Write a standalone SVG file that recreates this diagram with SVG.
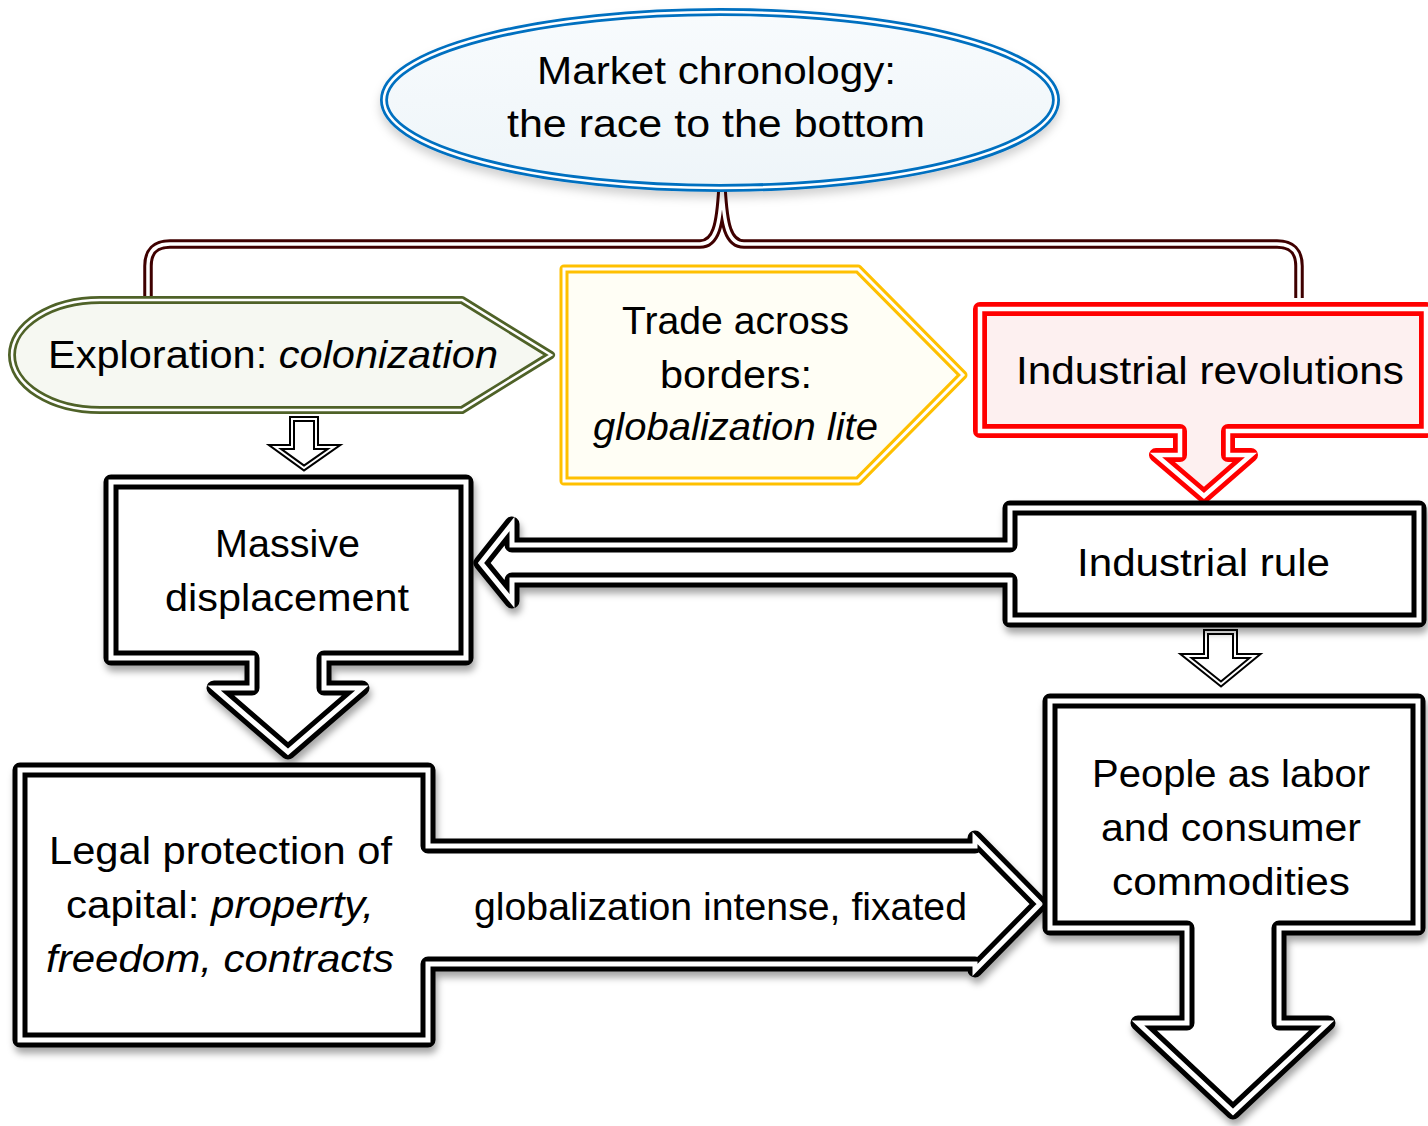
<svg xmlns="http://www.w3.org/2000/svg" xmlns:xlink="http://www.w3.org/1999/xlink" width="1428" height="1126" viewBox="0 0 1428 1126">
<defs>
<style>
.t{font-family:"Liberation Sans",Arial,sans-serif;font-size:38px;fill:#000;text-anchor:middle}
.i{font-style:italic}
.bk{fill:#fff;stroke:#000;stroke-width:15;stroke-linejoin:round}
.bkgap{fill:none;stroke:#fff;stroke-width:5;stroke-linejoin:miter}
.sm{fill:#fff;stroke:#000;stroke-width:6;stroke-linejoin:miter}
.smgap{fill:none;stroke:#fff;stroke-width:2;stroke-linejoin:miter}
.br{fill:none;stroke:#3f0000;stroke-width:9.5;stroke-linejoin:round}
.brgap{fill:none;stroke:#fff;stroke-width:3.5;stroke-linejoin:round}
</style>
<filter id="sh" x="-10%" y="-10%" width="120%" height="130%">
<feDropShadow dx="2" dy="6" stdDeviation="3.5" flood-color="#000" flood-opacity="0.35"/>
</filter>
<filter id="shs" x="-10%" y="-10%" width="120%" height="130%">
<feDropShadow dx="0" dy="6" stdDeviation="5" flood-color="#000" flood-opacity="0.18"/>
</filter>
<linearGradient id="gEll" x1="0" y1="0" x2="0" y2="1">
<stop offset="0" stop-color="#F8FBFD"/>
<stop offset="1" stop-color="#EEF5F9"/>
</linearGradient>
<path id="p-bracket" d="M148,300 L148,266 Q148,244 170,244 L700,244 C716,244 720,225 722,188 C724,225 728,244 744,244 L1277,244 Q1299,244 1299,266 L1299,298"/>
<path id="p-a1" d="M292,419 L316,419 L316,447 L334,447 L304,468 L275,447 L292,447 Z"/>
<path id="p-a2" d="M1206,632 L1235,632 L1235,656 L1255,656 L1221,684 L1186,656 L1206,656 Z"/>
<path id="p-explo" d="M100,300 L462,300 L551,355 L462,410 L100,410 A88,55 0 0 1 12,355 A88,55 0 0 1 100,300 Z"/>
<path id="p-trade" d="M564,269 L858,269 L963,375 L858,481 L564,481 Z"/>
<path id="p-indrev" d="M980,309 L1426,309 L1426,431 L1228,431 L1228,455 L1251,455 L1204,496 L1156,455 L1180,455 L1180,431 L980,431 Z"/>
<path id="p-massive" d="M111,482 L466,482 L466,658 L324,658 L324,688 L362,688 L288,752 L214,688 L252,688 L252,658 L111,658 Z"/>
<path id="p-indrule" d="M1010,508 L1419,508 L1419,620 L1010,620 L1010,580 L512,580 L512,601 L481,563 L512,524 L512,545 L1010,545 Z"/>
<path id="p-legal" d="M20,770 L428,770 L428,846 L975,846 L975,838 L1040,904 L975,970 L975,964 L428,964 L428,1040 L20,1040 Z"/>
<path id="p-people" d="M1050,701 L1418,701 L1418,928 L1279,928 L1279,1023 L1328,1023 L1233,1112 L1138,1023 L1187,1023 L1187,928 L1050,928 Z"/>
</defs>
<rect x="0" y="0" width="1428" height="1126" fill="#fff"/>

<g id="connectors">
<use href="#p-bracket" class="br"/>
<use href="#p-bracket" class="brgap"/>
<g id="arrow-explo-massive">
<use href="#p-a1" class="sm"/>
<use href="#p-a1" class="smgap"/>
</g>
<g id="arrow-rule-people">
<use href="#p-a2" class="sm"/>
<use href="#p-a2" class="smgap"/>
</g>
</g>

<g id="node-market">
<ellipse cx="720" cy="100" rx="336" ry="88" fill="url(#gEll)" stroke="#0070C0" stroke-width="8" filter="url(#shs)"/>
<ellipse cx="720" cy="100" rx="336" ry="88" fill="none" stroke="#fff" stroke-width="2.5"/>
<text class="t" x="716.5" y="84" textLength="359" lengthAdjust="spacingAndGlyphs">Market chronology:</text>
<text class="t" x="716" y="137" textLength="418" lengthAdjust="spacingAndGlyphs">the race to the bottom</text>
</g>

<g id="node-exploration">
<use href="#p-explo" fill="#F6F8F2" stroke="#4F6228" stroke-width="8" stroke-linejoin="round"/>
<use href="#p-explo" fill="none" stroke="#fff" stroke-width="2.5"/>
<text class="t" x="273" y="368" textLength="450" lengthAdjust="spacingAndGlyphs">Exploration: <tspan class="i">colonization</tspan></text>
</g>

<g id="node-trade">
<use href="#p-trade" fill="#FFFEF5" stroke="#FFC000" stroke-width="9" stroke-linejoin="round"/>
<use href="#p-trade" fill="none" stroke="#fff" stroke-width="3"/>
<text class="t" x="735.5" y="334" textLength="227" lengthAdjust="spacingAndGlyphs">Trade across</text>
<text class="t" x="736" y="388" textLength="152" lengthAdjust="spacingAndGlyphs">borders:</text>
<text class="t i" x="735.5" y="440" textLength="285" lengthAdjust="spacingAndGlyphs">globalization lite</text>
</g>

<g id="node-industrial-revolutions">
<use href="#p-indrev" fill="#FDF0F0" stroke="#FF0000" stroke-width="14" stroke-linejoin="round"/>
<use href="#p-indrev" fill="none" stroke="#fff" stroke-width="4.5"/>
<text class="t" x="1210" y="384" textLength="388" lengthAdjust="spacingAndGlyphs">Industrial revolutions</text>
</g>

<g id="node-industrial-rule">
<use href="#p-indrule" class="bk" filter="url(#sh)"/>
<use href="#p-indrule" class="bkgap"/>
<text class="t" x="1203.5" y="576" textLength="253" lengthAdjust="spacingAndGlyphs">Industrial rule</text>
</g>

<g id="node-massive">
<use href="#p-massive" class="bk" filter="url(#sh)"/>
<use href="#p-massive" class="bkgap"/>
<text class="t" x="287.5" y="557" textLength="145" lengthAdjust="spacingAndGlyphs">Massive</text>
<text class="t" x="287" y="611" textLength="244" lengthAdjust="spacingAndGlyphs">displacement</text>
</g>

<g id="node-legal">
<use href="#p-legal" class="bk" filter="url(#sh)"/>
<use href="#p-legal" class="bkgap"/>
<text class="t" x="220.5" y="864" textLength="343" lengthAdjust="spacingAndGlyphs">Legal protection of</text>
<text class="t" x="220" y="918" textLength="308" lengthAdjust="spacingAndGlyphs">capital: <tspan class="i">property,</tspan></text>
<text class="t i" x="220" y="972" textLength="348" lengthAdjust="spacingAndGlyphs">freedom, contracts</text>
<text class="t" x="720.5" y="920" textLength="493" lengthAdjust="spacingAndGlyphs">globalization intense, fixated</text>
</g>

<g id="node-people">
<use href="#p-people" class="bk" filter="url(#sh)"/>
<use href="#p-people" class="bkgap"/>
<text class="t" x="1231" y="787" textLength="278" lengthAdjust="spacingAndGlyphs">People as labor</text>
<text class="t" x="1231" y="841" textLength="260" lengthAdjust="spacingAndGlyphs">and consumer</text>
<text class="t" x="1231" y="895" textLength="238" lengthAdjust="spacingAndGlyphs">commodities</text>
</g>
</svg>
